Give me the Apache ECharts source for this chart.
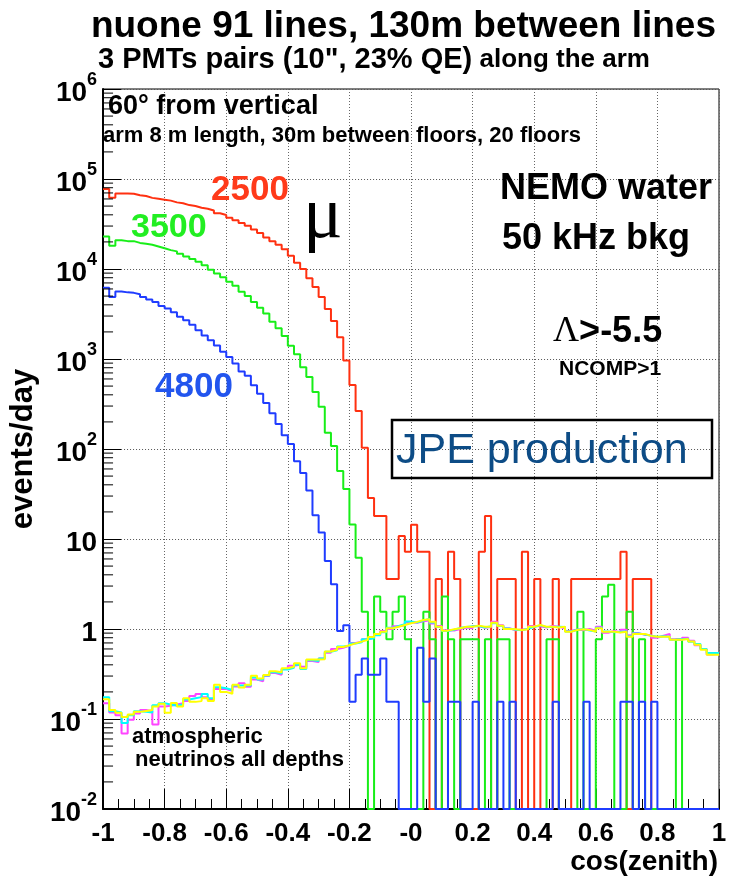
<!DOCTYPE html>
<html>
<head>
<meta charset="utf-8">
<script src="https://cdn.jsdelivr.net/npm/echarts@6/dist/echarts.min.js"></script>
<style>
  html, body { margin: 0; padding: 0; background: #fff; }
  #chart { width: 733px; height: 882px; }
</style>
</head>
<body>
<div id="chart"></div>
<script>
// cos(zenith) histograms, 100 bins of 0.02 from -1 to 1 (events/day)
const binLow = -1
const binWidth = 0.02

// muons, depth 2500 m
const mu2500 = [
  77600, 61700, 69200, 69200, 68400, 66100, 64600, 61700, 60300, 58900,
  57500, 55000, 53700, 51300, 50100, 47900, 46800, 44700, 41700, 39800,
  37200, 34700, 32400, 30200, 27500, 25100, 22400, 20400, 18600, 16600,
  14000, 11700, 10000, 7900, 6300, 4900, 3600, 2650, 1740, 960,
  515, 265, 103, 28.5, 18, 18, 3.6, 3.6, 10.8, 7.2,
  14.4, 7.2, 7.2, 0, 3.6, 0, 7.2, 3.6, 0, 0,
  0, 7.2, 18, 0, 3.6, 3.6, 3.6, 0, 7.2, 0,
  3.6, 0, 0, 3.6, 0, 0, 3.6, 3.6, 3.6, 3.6,
  3.6, 3.6, 3.6, 3.6, 7.2, 0, 3.6, 3.6, 3.6, 0,
  0, 0, 0, 0, 0, 0, 0, 0, 0, 0
]
// muons, depth 3500 m
const mu3500 = [
  22900, 18100, 20900, 20400, 20400, 19500, 19100, 18600, 17800, 17000,
  16200, 15700, 14800, 13800, 12900, 12000, 11000, 9800, 8900, 8100,
  7200, 6500, 5600, 5000, 4300, 3700, 3200, 2600, 2200, 1800,
  1400, 1130, 810, 630, 430, 295, 152, 108, 57, 36,
  14.5, 6.2, 1.55, 0, 2.3, 1.55, 0.77, 1.55, 2.3, 0.77,
  0, 0, 1.55, 0.77, 0, 2.3, 0.77, 0, 0.77, 0.77,
  0.77, 0, 0.77, 0, 0.77, 0.77, 0, 0, 0, 0,
  0, 0, 0.77, 0.77, 0, 0, 0, 1.55, 0, 0,
  0.77, 2.3, 3.1, 0, 0, 1.55, 0, 0.77, 0, 0,
  0, 0, 0, 0.77, 0, 0, 0, 0, 0, 0
]
// muons, depth 4800 m
const mu4800 = [
  6170, 4900, 5620, 5500, 5430, 5250, 4900, 4570, 4310, 3890,
  3630, 3310, 2950, 2690, 2400, 2090, 1820, 1620, 1410, 1200,
  1050, 890, 725, 650, 510, 410, 325, 250, 190, 142,
  114, 73, 54, 34.5, 18.4, 11.8, 5.7, 3.15, 0.95, 1.1,
  0.155, 0.31, 0.47, 0.31, 0.31, 0.47, 0.155, 0.155, 0, 0,
  0, 0.62, 0.155, 0.47, 0, 0, 0.155, 0.155, 0, 0,
  0.155, 0, 0, 0, 0.155, 0, 0.155, 0, 0, 0,
  0, 0, 0, 0.155, 0, 0, 0, 0, 0.155, 0,
  0, 0, 0, 0, 0.155, 0.155, 0, 0.155, 0, 0.155,
  0, 0, 0, 0, 0, 0, 0, 0, 0, 0
]
// atmospheric neutrinos, three depths
const nuMagenta = [
  0.150, 0.118, 0.110, 0.069, 0.098, 0.115, 0.126, 0.122, 0.087, 0.138,
  0.140, 0.145, 0.150, 0.158, 0.180, 0.190, 0.175, 0.165, 0.215, 0.215,
  0.205, 0.230, 0.250, 0.228, 0.275, 0.262, 0.300, 0.325, 0.310, 0.360,
  0.390, 0.400, 0.380, 0.440, 0.430, 0.470, 0.545, 0.600, 0.620, 0.650,
  0.700, 0.720, 0.770, 0.800, 0.870, 0.950, 1.00, 1.07, 1.10, 1.18,
  1.17, 1.22, 1.24, 1.15, 1.08, 0.97, 0.96, 1.00, 1.04, 1.02,
  1.08, 1.03, 1.05, 1.20, 1.10, 1.02, 0.97, 0.99, 1.00, 1.08,
  1.07, 1.04, 1.08, 1.06, 1.02, 0.95, 0.99, 0.97, 1.00, 0.96,
  1.06, 0.91, 0.95, 0.92, 0.98, 0.85, 0.90, 0.86, 0.86, 0.80,
  0.84, 0.88, 0.77, 0.76, 0.80, 0.74, 0.66, 0.60, 0.52, 0.53
]
const nuCyan = [
  0.175, 0.122, 0.118, 0.090, 0.110, 0.122, 0.120, 0.118, 0.142, 0.150,
  0.145, 0.140, 0.145, 0.165, 0.170, 0.175, 0.190, 0.170, 0.225, 0.220,
  0.210, 0.235, 0.235, 0.235, 0.290, 0.275, 0.305, 0.330, 0.320, 0.355,
  0.370, 0.400, 0.360, 0.450, 0.440, 0.470, 0.560, 0.580, 0.640, 0.650,
  0.690, 0.710, 0.770, 0.790, 0.850, 0.920, 1.03, 1.08, 1.13, 1.21,
  1.18, 1.24, 1.30, 1.18, 1.05, 0.95, 0.98, 1.03, 1.05, 1.07,
  1.08, 1.04, 1.07, 1.16, 1.08, 1.01, 0.98, 0.97, 1.01, 1.05,
  1.10, 1.05, 1.05, 1.06, 1.05, 0.94, 0.98, 1.00, 0.96, 0.94,
  1.03, 0.94, 0.92, 0.93, 0.94, 0.83, 0.89, 0.87, 0.84, 0.82,
  0.83, 0.82, 0.76, 0.77, 0.78, 0.72, 0.68, 0.60, 0.54, 0.54
]
const nuYellow = [
  0.166, 0.126, 0.117, 0.105, 0.112, 0.120, 0.123, 0.126, 0.138, 0.148,
  0.117, 0.151, 0.138, 0.170, 0.155, 0.158, 0.170, 0.158, 0.240, 0.200,
  0.191, 0.240, 0.224, 0.240, 0.302, 0.282, 0.309, 0.339, 0.331, 0.367,
  0.380, 0.417, 0.367, 0.457, 0.457, 0.462, 0.562, 0.589, 0.631, 0.661,
  0.692, 0.724, 0.759, 0.813, 0.881, 0.933, 1.02, 1.06, 1.11, 1.16,
  1.20, 1.26, 1.28, 1.20, 1.06, 0.959, 0.991, 1.02, 1.06, 1.06,
  1.09, 1.06, 1.06, 1.17, 1.09, 1.00, 0.991, 0.977, 0.991, 1.06,
  1.11, 1.06, 1.06, 1.04, 1.06, 0.933, 0.977, 0.991, 0.977, 0.933,
  1.02, 0.933, 0.933, 0.912, 0.933, 0.822, 0.881, 0.881, 0.838, 0.822,
  0.822, 0.822, 0.759, 0.759, 0.776, 0.724, 0.667, 0.589, 0.516, 0.516
]

const xTicks = [-1, -0.8, -0.6, -0.4, -0.2, 0, 0.2, 0.4, 0.6, 0.8, 1]
const xTickText = ['-1', '-0.8', '-0.6', '-0.4', '-0.2', '-0', '0.2', '0.4', '0.6', '0.8', '1']

const SANS = '"Liberation Sans", Arial, Helvetica, sans-serif'
const FLOOR = 0.01 // empty bins sit on the bottom of the log frame

// bin i covers [edge i, edge i+1]; step 'end' draws the flat top over the bin
function histo(vals) {
  const pts = vals.map((v, i) => [+(binLow + i * binWidth).toFixed(2), v > 0 ? v : FLOOR])
  pts.push([1, pts[pts.length - 1][1]])
  return pts
}

function hSeries(name, vals, color, z) {
  return {
    name, type: 'line', step: 'end', symbol: 'none', z,
    data: histo(vals),
    lineStyle: { color, width: 2 },
    emphasis: { disabled: true }
  }
}

function label(x, y, text, font, fill, extra) {
  return Object.assign({ type: 'text', x, y, z: 20, style: Object.assign({ text, font, fill: fill || '#000', verticalAlign: 'middle' }, extra || {}) })
}

// log minor ticks 2..9 in each decade on the y axis
const minorTicks = []
for (let e = -2; e < 6; e++) {
  for (let m = 2; m <= 9; m++) minorTicks.push([-1, m * Math.pow(10, e)])
}

const chart = echarts.init(document.getElementById('chart'))
chart.setOption({
  animation: false,
  grid: { left: 100, right: 14, top: 89, bottom: 73, show: true, borderColor: '#000', borderWidth: 1 },
  xAxis: {
    type: 'value', min: -1, max: 1, interval: 0.2,
    axisLine: { onZero: false, lineStyle: { color: '#000', width: 2 } },
    axisTick: { inside: true, length: 20, lineStyle: { color: '#000', width: 1 } },
    minorTick: { show: true, splitNumber: 4, length: 10, lineStyle: { color: '#000', width: 1 } },
    splitLine: { show: true, lineStyle: { color: '#666', type: [1, 2], width: 1 } },
    axisLabel: {
      margin: 12, color: '#000', fontSize: 26, fontWeight: 'bold', fontFamily: SANS,
      formatter: v => {
        const k = xTicks.findIndex(t => Math.abs(t - v) < 1e-6)
        return k >= 0 ? xTickText[k] : ''
      }
    }
  },
  yAxis: {
    type: 'log', logBase: 10, min: 0.01, max: 1e6, splitNumber: 8,
    name: 'events/day', nameLocation: 'middle', nameGap: 50, nameRotate: 90,
    nameTextStyle: { color: '#000', fontSize: 31, fontWeight: 'bold', fontFamily: SANS },
    axisLine: { show: true, onZero: false, lineStyle: { color: '#000', width: 2 } },
    axisTick: { show: true, inside: true, length: 18, lineStyle: { color: '#000', width: 1 } },
    splitLine: { show: true, lineStyle: { color: '#555', type: [1, 2], width: 1 } },
    axisLabel: {
      margin: 6, color: '#000',
      formatter: v => {
        const e = Math.round(Math.log10(v))
        if (e === 0) return '{b|1}'
        if (e === 1) return '{b|10}'
        return '{b|10}{s|' + e + '}'
      },
      rich: {
        b: { fontSize: 28, fontWeight: 'bold', fontFamily: SANS, color: '#000', lineHeight: 36, verticalAlign: 'bottom' },
        s: { fontSize: 18, fontWeight: 'bold', fontFamily: SANS, color: '#000', lineHeight: 14, verticalAlign: 'top' }
      }
    }
  },
  series: [
    {
      type: 'custom', data: minorTicks, z: 5, silent: true, clip: false,
      renderItem: (params, api) => {
        const p = api.coord([api.value(0), api.value(1)])
        return {
          type: 'line',
          shape: { x1: p[0], y1: p[1], x2: p[0] + 10, y2: p[1] },
          style: { stroke: '#000', lineWidth: 1 }
        }
      }
    },
    hSeries('2500', mu2500, '#ff3010', 3),
    hSeries('3500', mu3500, '#18ee18', 3),
    hSeries('4800', mu4800, '#1f3cff', 4),
    hSeries('nu1', nuMagenta, '#ff44ff', 5),
    hSeries('nu2', nuCyan, '#00ffff', 6),
    hSeries('nu3', nuYellow, '#ffff00', 7)
  ],
  graphic: [
    label(716, 27, 'nuone 91 lines, 130m between lines', 'bold 37px ' + SANS, '#000', { align: 'right' }),
    label(98, 60, '{a|3 PMTs pairs (10", 23% QE)}{b| along the arm}', null, null, {
      rich: { a: { font: 'bold 29px ' + SANS, fill: '#000' }, b: { font: 'bold 26px ' + SANS, fill: '#000' } }
    }),
    label(108, 107, '60° from vertical', 'bold 27px ' + SANS),
    label(103, 136, 'arm 8 m length, 30m between floors, 20 floors', 'bold 22px ' + SANS),
    label(211, 190, '2500', 'bold 35px ' + SANS, '#ff3a1a'),
    label(303, 218, 'μ', '74px "Liberation Serif", serif'),
    label(131, 228, '3500', 'bold 34px ' + SANS, '#22ee22'),
    label(155, 387, '4800', 'bold 35px ' + SANS, '#2255ee'),
    label(500, 189, 'NEMO water', 'bold 36px ' + SANS),
    label(502, 239, '50 kHz bkg', 'bold 36px ' + SANS),
    label(553, 332, '{g|Λ}{t|>-5.5}', null, null, {
      rich: { g: { font: '36px "Liberation Serif", serif', fill: '#000' }, t: { font: 'bold 36px ' + SANS, fill: '#000' } }
    }),
    label(559, 369, 'NCOMP>1', 'bold 21px ' + SANS),
    { type: 'rect', z: 20, shape: { x: 392, y: 420, width: 320, height: 58 }, style: { fill: 'none', stroke: '#000', lineWidth: 2.5 } },
    label(396, 451, 'JPE production', '43px ' + SANS, '#0d4c86'),
    label(132, 737, 'atmospheric', 'bold 22px ' + SANS),
    label(135, 760, 'neutrinos all depths', 'bold 22px ' + SANS),
    label(718, 862, 'cos(zenith)', 'bold 28px ' + SANS, '#000', { align: 'right' })
  ]
})
</script>
</body>
</html>
